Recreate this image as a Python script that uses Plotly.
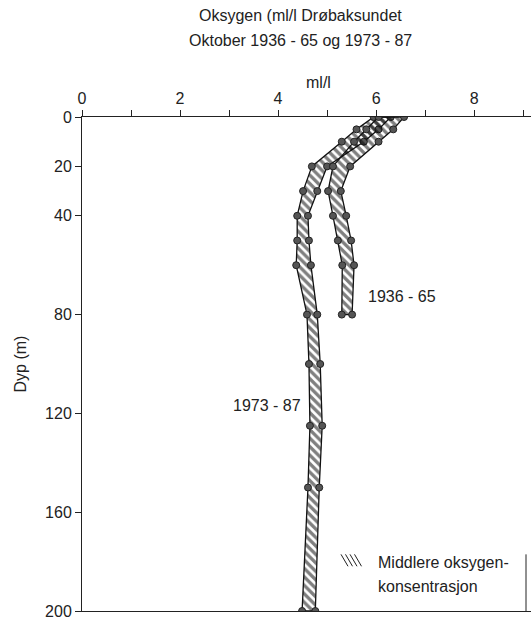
import numpy as np
import plotly.graph_objects as go

# 1936-65 series (ml/l) at depths (m)
depth_3665 = [0, 5, 10, 20, 30, 40, 50, 60, 80]
min_3665 = [6.05, 5.8, 5.55, 5.12, 5.02, 5.12, 5.22, 5.31, 5.3]
max_3665 = [6.57, 6.35, 6.05, 5.47, 5.28, 5.39, 5.49, 5.55, 5.51]

# 1973-87 series
depth_7387 = [0, 5, 10, 20, 30, 40, 50, 60, 80, 100, 125, 150, 200]
min_7387 = [5.95, 5.6, 5.3, 4.69, 4.51, 4.39, 4.39, 4.37, 4.59, 4.63, 4.65, 4.61, 4.49]
max_7387 = [6.3, 6.05, 5.75, 5.0, 4.8, 4.61, 4.63, 4.67, 4.80, 4.86, 4.90, 4.84, 4.76]

x_ticks = list(range(0, 10))
x_ticktext = [str(v) if v % 2 == 0 else "" for v in x_ticks]
y_ticks = [0, 20, 40, 80, 120, 160, 200]
y_ticktext = [str(v) for v in y_ticks]

FONT = "Liberation Sans, Arial, sans-serif"
TXT = "#222"

fig = go.Figure()


def add_band(depth, lo, hi, name):
    d = np.array(depth, dtype=float)
    lo = np.array(lo)
    hi = np.array(hi)
    xs = np.concatenate([lo, hi[::-1], lo[:1]])
    ys = np.concatenate([d, d[::-1], d[:1]])
    fig.add_trace(go.Scatter(
        x=xs, y=ys, mode="lines", fill="toself",
        fillcolor="rgba(0,0,0,0)",
        fillpattern=dict(shape="\\", fgcolor="#000", bgcolor="rgba(0,0,0,0)",
                         size=6, solidity=0.55, fillmode="overlay"),
        line=dict(color="#111", width=1.3), name=name, showlegend=False,
        hoverinfo="skip"))
    for arr in (lo, hi):
        fig.add_trace(go.Scatter(
            x=arr, y=d, mode="markers",
            marker=dict(size=7, color="#555", line=dict(color="#222", width=1)),
            showlegend=False, hoverinfo="skip"))


add_band(depth_7387, min_7387, max_7387, "1973 - 87")
add_band(depth_3665, min_3665, max_3665, "1936 - 65")

fig.update_layout(
    width=531, height=620,
    margin=dict(l=82, r=0, t=117, b=6),
    paper_bgcolor="white", plot_bgcolor="white",
    font=dict(family=FONT, size=16, color=TXT),
    showlegend=False,
    xaxis=dict(side="top", range=[0, 9.16], tickvals=x_ticks, ticktext=x_ticktext,
               ticks="outside", ticklen=6, tickcolor="#222", showline=True,
               linecolor="#222", linewidth=1, mirror=True, showgrid=False,
               zeroline=False, tickfont=dict(size=16, color=TXT),
               ticklabeloverflow="allow"),
    yaxis=dict(range=[200, 0], tickvals=y_ticks, ticktext=y_ticktext,
               ticks="outside", ticklen=6, tickcolor="#222", showline=True,
               linecolor="#222", linewidth=1, showgrid=False, zeroline=False,
               tickfont=dict(size=16, color=TXT), ticklabeloverflow="allow",
               title=dict(text="Dyp (m)", font=dict(size=16, color=TXT), standoff=14)),
)

ann = [
    dict(text="Oksygen (ml/l Drøbaksundet", x=300, y=15),
    dict(text="Oktober 1936 - 65 og 1973 - 87", x=300, y=40),
    dict(text="ml/l", x=318, y=82),
]
for a in ann:
    fig.add_annotation(text=a["text"], xref="paper", yref="paper",
                       x=(a["x"] - 82) / 449, y=1 + (117 - a["y"]) / 497,
                       showarrow=False, xanchor="center", yanchor="middle",
                       font=dict(size=16, color=TXT))

fig.add_annotation(text="1936 - 65", x=5.8, y=72.5, xref="x", yref="y",
                   showarrow=False, xanchor="left", yanchor="middle",
                   font=dict(size=16, color=TXT))
fig.add_annotation(text="1973 - 87", x=4.5, y=117, xref="x", yref="y",
                   showarrow=False, xanchor="right", yanchor="middle",
                   font=dict(size=16, color=TXT))

# legend text
for txt, yy in (("Middlere oksygen-", 565), ("konsentrasjon", 589)):
    fig.add_annotation(text=txt, xref="paper", yref="paper",
                       x=(376 - 82) / 449, y=1 - (yy - 117) / 497,
                       showarrow=False, xanchor="left", yanchor="middle",
                       font=dict(size=16, color=TXT))
# legend hatch icon
for i in range(4):
    x0 = 341 + i * 4.5
    fig.add_shape(type="line", xref="paper", yref="paper",
                  x0=(x0 - 82) / 449, y0=1 - (557 - 117) / 497,
                  x1=(x0 + 7 - 82) / 449, y1=1 - (569 - 117) / 497,
                  line=dict(color="#222", width=1))
# legend box right edge
fig.add_shape(type="line", xref="paper", yref="paper",
              x0=(526 - 82) / 449, x1=(526 - 82) / 449,
              y0=0, y1=1 - (557 - 117) / 497,
              line=dict(color="#222", width=1))

fig.write_html("out.html", config={"displayModeBar": False},
               post_script="document.body.style.margin='0px';"
                           "document.body.style.overflow='hidden';")
